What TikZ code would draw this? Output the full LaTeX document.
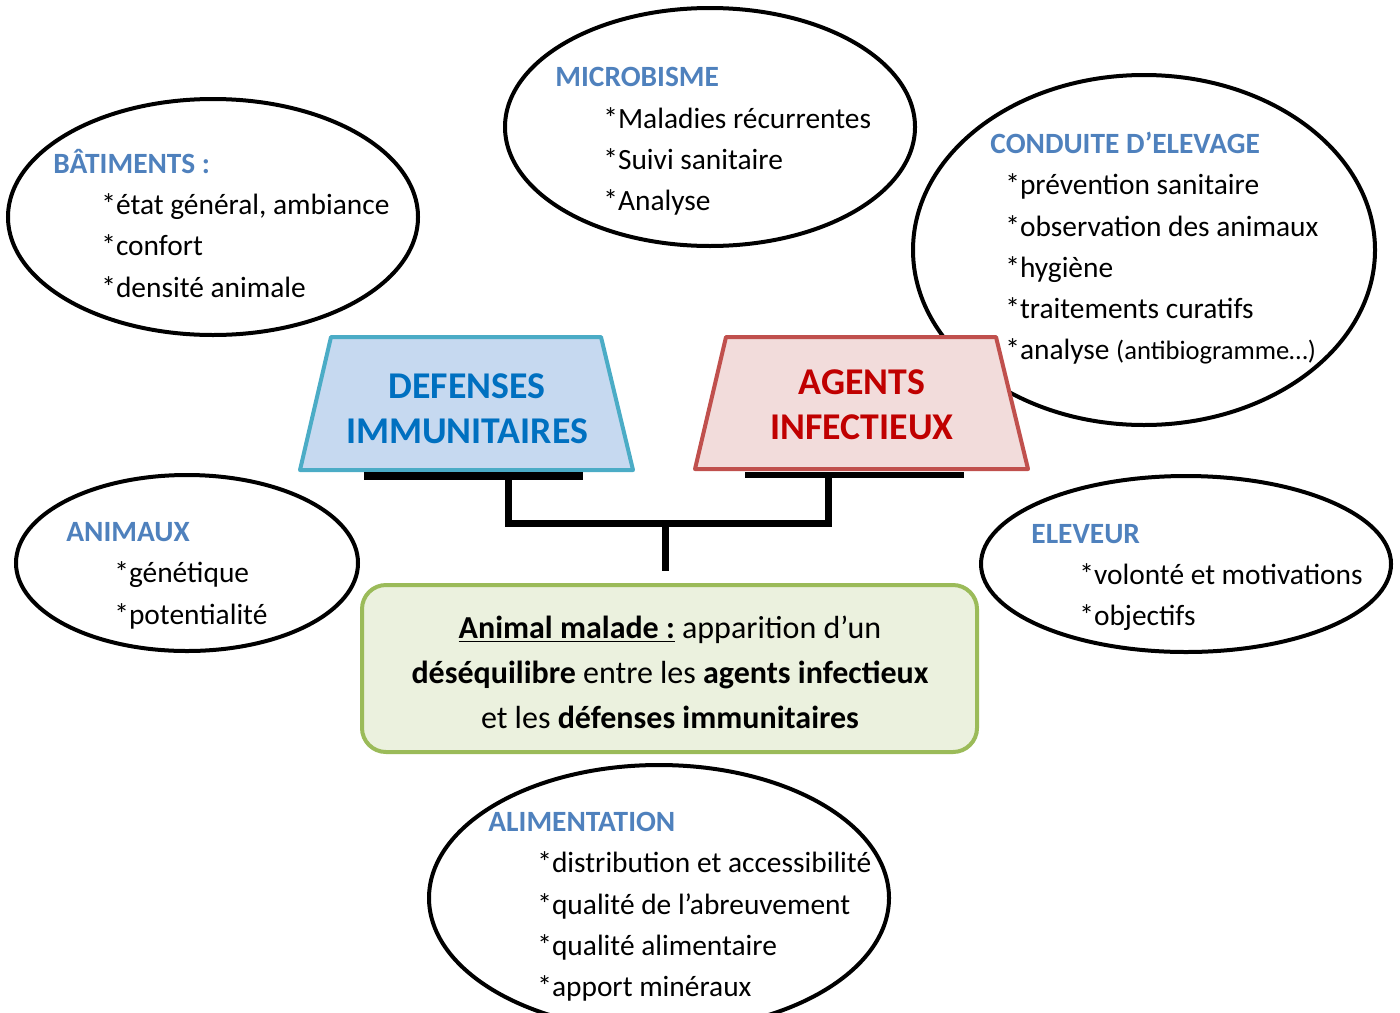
\documentclass[tikz,border=0pt]{standalone}
\usepackage{fontspec}
\setmainfont{Carlito}
\usetikzlibrary{shapes.geometric}
\definecolor{ttlblue}{RGB}{79,129,189}
\definecolor{defborder}{RGB}{75,172,198}
\definecolor{deffill}{RGB}{198,217,240}
\definecolor{deftext}{RGB}{0,112,192}
\definecolor{agtborder}{RGB}{192,80,77}
\definecolor{agtfill}{RGB}{242,220,219}
\definecolor{agttext}{RGB}{192,0,0}
\definecolor{grnborder}{RGB}{155,187,89}
\definecolor{grnfill}{RGB}{235,241,222}
\tikzset{
  bubble/.style={draw=black, line width=2pt, ellipse, inner sep=0pt, fill=white},
  itemtxt/.style={anchor=base west, inner sep=0pt, font=\fontsize{14.7}{17}\selectfont},
  ttltxt/.style={anchor=base west, inner sep=0pt, font=\fontsize{14.7}{17}\selectfont\bfseries, text=ttlblue},
  trapfont/.style={align=center, font=\fontsize{18.9}{22.5}\selectfont\bfseries, inner sep=0pt},
  beambar/.style={fill=black, inner sep=0pt, minimum width=109.5pt, minimum height=3.5pt},
  beam/.style={line width=3.5pt, line cap=butt, line join=miter},
}
\begin{document}
\begin{tikzpicture}[x=0.5pt,y=-0.5pt]
\useasboundingbox (0,0) rectangle (1400,1012);
% ellipses
\node[bubble, minimum width=205pt, minimum height=118pt] (bat) at (213,217) {};
\node[bubble, minimum width=205pt, minimum height=119pt] (mic) at (710,127) {};
\node[bubble, minimum width=231pt, minimum height=175pt] (cond) at (1144,250) {};
\node[bubble, minimum width=171pt, minimum height=88pt] (ani) at (187,563) {};
\node[bubble, minimum width=205pt, minimum height=88pt] (elev) at (1186,564) {};
\node[bubble, minimum width=230pt, minimum height=133pt] (alim) at (659,898) {};
% trapezoids
\draw[line width=2pt, draw=defborder, fill=deffill, line join=round] (331,337) -- (601,337) -- (633,470) -- (300,470) -- cycle;
\draw[line width=2pt, draw=agtborder, fill=agtfill, line join=round] (726,337) -- (996,337) -- (1028,469) -- (695,469) -- cycle;
\node[trapfont, text=deftext] (def) at (467,409) {DEFENSES\\IMMUNITAIRES};
\node[trapfont, text=agttext] (agt) at (862,405) {AGENTS\\INFECTIEUX};
% balance
\node[beambar, minimum height=4pt] (bdef) at (473.5,476) {};
\node[beambar, minimum height=3pt] (bagt) at (854.5,475) {};
\coordinate (jl) at (508,523);
\coordinate (jr) at (828,523);
\coordinate (jc) at (665,523);
\coordinate (stem) at (665,571);
\draw[beam] (bdef.south -| jl) -- (jl) -- (jr) -- (bagt.south -| jr);
\draw[beam] (jc) -- (stem);
% green box
\node[draw=grnborder, fill=grnfill, line width=2pt, rounded corners=12pt,
      minimum width=307.5pt, minimum height=83.5pt, inner sep=0pt] (box) at (669.5,668.5) {};
\node[align=center, inner sep=0pt, font=\fontsize{16}{22.5}\selectfont] (boxtxt) at (670,672.5)
  {\underline{\textbf{Animal malade :}} apparition d’un\\
   \textbf{déséquilibre} entre les \textbf{agents infectieux}\\
   et les \textbf{défenses immunitaires}};
% texts
\node[ttltxt] (bat0) at (53,173) {BÂTIMENTS :};
\node[itemtxt] (bat1) at (101,214) {*état général, ambiance};
\node[itemtxt] (bat2) at (101,255) {*confort};
\node[itemtxt] (bat3) at (101,297) {*densité animale};
\node[ttltxt] (mic0) at (555,86) {MICROBISME};
\node[itemtxt] (mic1) at (603,128) {*Maladies récurrentes};
\node[itemtxt] (mic2) at (603,169) {*Suivi sanitaire};
\node[itemtxt] (mic3) at (603,210) {*Analyse};
\node[ttltxt] (cond0) at (990,153) {CONDUITE D’ELEVAGE};
\node[itemtxt] (cond1) at (1005,194) {*prévention sanitaire};
\node[itemtxt] (cond2) at (1005,236) {*observation des animaux};
\node[itemtxt] (cond3) at (1005,277) {*hygiène};
\node[itemtxt] (cond4) at (1005,318) {*traitements curatifs};
\node[itemtxt] (cond5) at (1005,359) {*analyse {\fontsize{13.3}{15}\selectfont(antibiogramme…)}};
\node[ttltxt] (ani0) at (66,541) {ANIMAUX};
\node[itemtxt] (ani1) at (114,582) {*génétique};
\node[itemtxt] (ani2) at (114,624) {*potentialité};
\node[ttltxt] (elev0) at (1031,543) {ELEVEUR};
\node[itemtxt] (elev1) at (1079,584) {*volonté et motivations};
\node[itemtxt] (elev2) at (1079,625) {*objectifs};
\node[ttltxt] (alim0) at (488,831) {ALIMENTATION};
\node[itemtxt] (alim1) at (537,872) {*distribution et accessibilité};
\node[itemtxt] (alim2) at (537,914) {*qualité de l’abreuvement};
\node[itemtxt] (alim3) at (537,955) {*qualité alimentaire};
\node[itemtxt] (alim4) at (537,996) {*apport minéraux};
\end{tikzpicture}
\end{document}
